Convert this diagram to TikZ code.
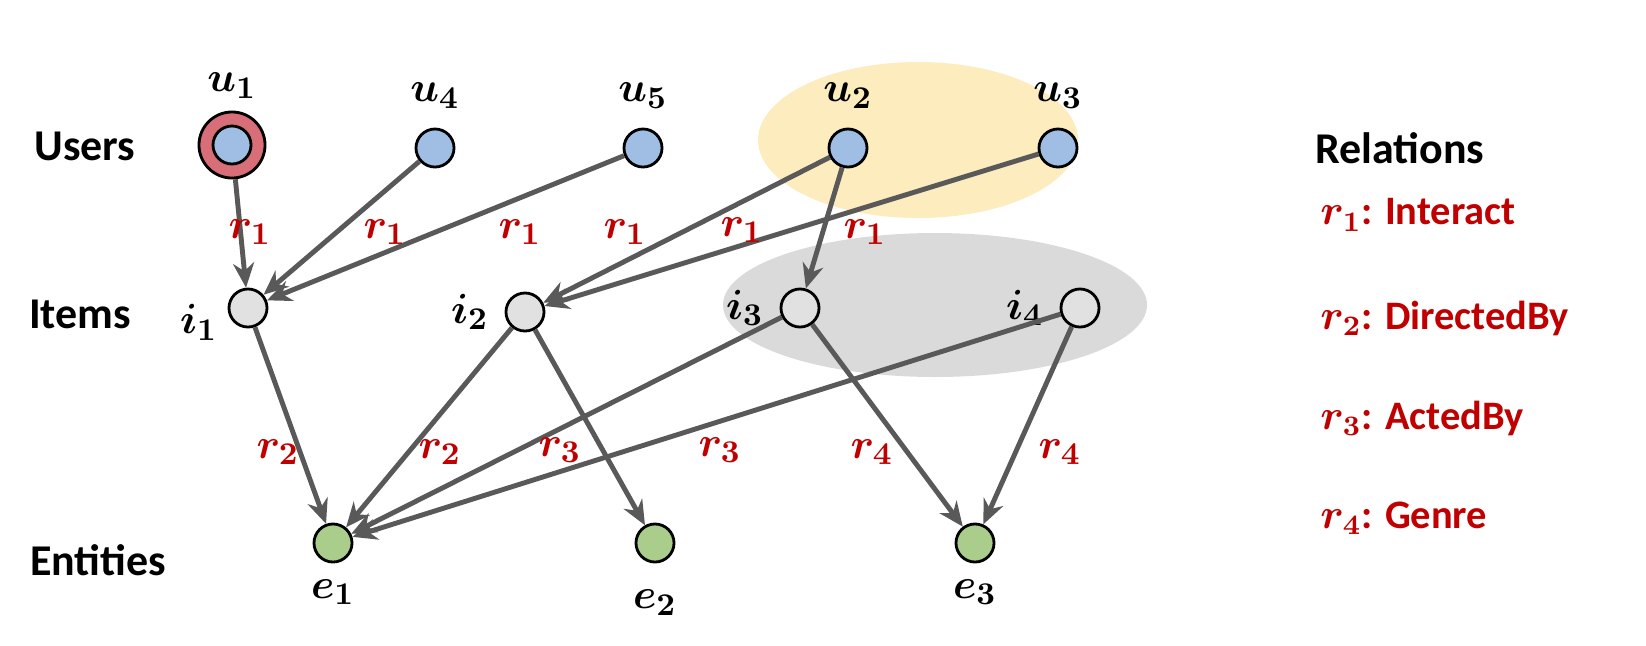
\documentclass[tikz,border=0pt]{standalone}
\usepackage{amsmath,bm}
\usepackage{fontspec}
\setmainfont{Carlito}
\usetikzlibrary{arrows.meta}
\definecolor{relred}{RGB}{192,0,0}
\definecolor{userblue}{RGB}{160,190,228}
\definecolor{itemgray}{RGB}{225,225,225}
\definecolor{entgreen}{RGB}{170,205,140}
\definecolor{ringred}{RGB}{215,110,120}
\definecolor{yellowbg}{RGB}{252,236,190}
\definecolor{graybg}{RGB}{218,218,218}
\tikzset{
  vert/.style={circle,draw=black,line width=0.8pt,minimum size=0.38cm,inner sep=0pt},
  user/.style={vert,fill=userblue},
  item/.style={vert,fill=itemgray},
  ent/.style={vert,fill=entgreen},
  rel/.style={text=relred,font=\fontsize{12.5}{15}\selectfont},
  head/.style={font=\bfseries\fontsize{12.5}{15}\selectfont},
  lbl/.style={font=\fontsize{12.5}{15}\selectfont},
  legend/.style={text=relred,font=\fontsize{11.5}{14}\selectfont,anchor=west},
  link/.style={draw=black!65,line width=1.4pt,-{Stealth[length=7pt,width=6pt]}}
}
\begin{document}
\begin{tikzpicture}[x=0.01cm,y=-0.01cm]
  \useasboundingbox (0,0) rectangle (1646,645);

  % highlighted groups
  \fill[yellowbg] (918,140) ellipse [x radius=160,y radius=78];
  \fill[graybg] (935,305) ellipse [x radius=212,y radius=72];

  % row titles
  \node[head] (tusers) at (85,146) {Users};
  \node[head] (titems) at (80,314) {Items};
  \node[head] (tents) at (98,560) {Entities};

  % users
  \node[circle,draw=black,line width=0.8pt,fill=ringred,minimum size=0.66cm,inner sep=0pt] (ring) at (232,145) {};
  \node[user] (u1) at (232,145) {};
  \node[user] (u4) at (435,148) {};
  \node[user] (u5) at (643,148) {};
  \node[user] (u2) at (848,148) {};
  \node[user] (u3) at (1058,148) {};
  \node[lbl,above=0pt] at (ring.north) {$\bm{u_1}$};
  \node[lbl,above=2pt] at (u4.north) {$\bm{u_4}$};
  \node[lbl,above=2pt] at (u5.north) {$\bm{u_5}$};
  \node[lbl,above=2pt] at (u2.north) {$\bm{u_2}$};
  \node[lbl,above=2pt] at (u3.north) {$\bm{u_3}$};

  % items
  \node[item] (i1) at (248,308) {};
  \node[item] (i2) at (525,312) {};
  \node[item] (i3) at (800,308) {};
  \node[item] (i4) at (1080,308) {};
  \node[lbl,left=1pt] at (i1.south west) {$\bm{i_1}$};
  \node[lbl,left=1pt] at (i2.west) {$\bm{i_2}$};
  \node[lbl,left=1pt] at (i3.west) {$\bm{i_3}$};
  \node[lbl,left=1pt] at (i4.west) {$\bm{i_4}$};

  % entities
  \node[ent] (e1) at (333,543) {};
  \node[ent] (e2) at (655,543) {};
  \node[ent] (e3) at (975,543) {};
  \node[lbl,below=1pt] at (e1.south) {$\bm{e_1}$};
  \node[lbl,below=4pt] at (e2.south) {$\bm{e_2}$};
  \node[lbl,below=1pt] at (e3.south) {$\bm{e_3}$};

  % links
  \draw[link] (ring) -- (i1);
  \draw[link] (u4) -- (i1);
  \draw[link] (u5) -- (i1);
  \draw[link] (u2) -- (i2);
  \draw[link] (u3) -- (i2);
  \draw[link] (u2) -- (i3);
  \draw[link] (i1) -- (e1);
  \draw[link] (i2) -- (e1);
  \draw[link] (i3) -- (e1);
  \draw[link] (i4) -- (e1);
  \draw[link] (i2) -- (e2);
  \draw[link] (i3) -- (e3);
  \draw[link] (i4) -- (e3);

  % relation labels
  \node[rel] at (250,232) {$\bm{r_1}$};
  \node[rel] at (385,232) {$\bm{r_1}$};
  \node[rel] at (520,232) {$\bm{r_1}$};
  \node[rel] at (625,232) {$\bm{r_1}$};
  \node[rel] at (742,230) {$\bm{r_1}$};
  \node[rel] at (865,232) {$\bm{r_1}$};
  \node[rel] at (278,452) {$\bm{r_2}$};
  \node[rel] at (440,452) {$\bm{r_2}$};
  \node[rel] at (560,450) {$\bm{r_3}$};
  \node[rel] at (720,450) {$\bm{r_3}$};
  \node[rel] at (872,452) {$\bm{r_4}$};
  \node[rel] at (1060,452) {$\bm{r_4}$};

  % legend
  \node[head] (trel) at (1400,148) {Relations};
  \node[legend] (l1) at (1308,215) {$\bm{r_1}$\textbf{: Interact}};
  \node[legend] (l2) at (1308,318) {$\bm{r_2}$\textbf{: DirectedBy}};
  \node[legend] (l3) at (1308,418) {$\bm{r_3}$\textbf{: ActedBy}};
  \node[legend] (l4) at (1308,518) {$\bm{r_4}$\textbf{: Genre}};
\end{tikzpicture}
\end{document}
